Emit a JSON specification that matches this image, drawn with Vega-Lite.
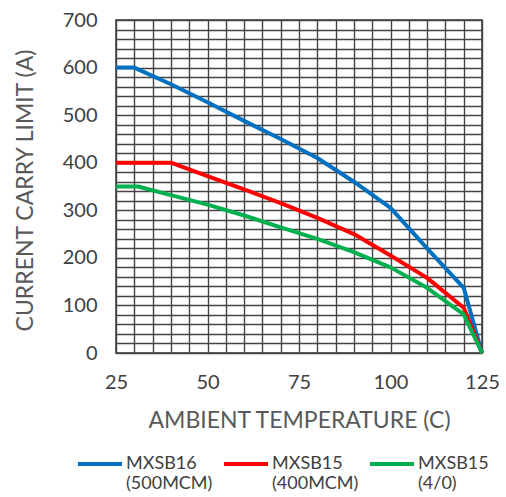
{
  "$schema": "https://vega.github.io/schema/vega-lite/v6.json",
  "width": 366,
  "height": 333,
  "autosize": {"type": "none"},
  "padding": {"left": 116, "top": 20, "right": 24, "bottom": 144},
  "background": "white",
  "config": {
    "font": "Lato",
    "view": {"stroke": "#333333", "strokeWidth": 1.5},
    "axis": {
      "labelFont": "Lato",
      "titleFont": "Lato",
      "labelColor": "#404040",
      "titleColor": "#595959",
      "labelFontSize": 20,
      "titleFontSize": 23,
      "titleFontWeight": "normal",
      "ticks": false,
      "domain": false,
      "grid": true,
      "gridColor": "#444444",
      "gridWidth": 1.4,
      "gridOpacity": 1,
      "labelFlush": false
    },
    "legend": {
      "labelFont": "Lato",
      "labelFontSize": 18,
      "labelColor": "#404040"
    }
  },
  "data": {
    "values": [
      {"series": "MXSB16 (500MCM)", "temp": 25, "current": 600},
      {"series": "MXSB16 (500MCM)", "temp": 30, "current": 600},
      {"series": "MXSB16 (500MCM)", "temp": 40, "current": 565},
      {"series": "MXSB16 (500MCM)", "temp": 50, "current": 527},
      {"series": "MXSB16 (500MCM)", "temp": 60, "current": 488},
      {"series": "MXSB16 (500MCM)", "temp": 70, "current": 450},
      {"series": "MXSB16 (500MCM)", "temp": 80, "current": 410},
      {"series": "MXSB16 (500MCM)", "temp": 90, "current": 360},
      {"series": "MXSB16 (500MCM)", "temp": 100, "current": 305},
      {"series": "MXSB16 (500MCM)", "temp": 110, "current": 220},
      {"series": "MXSB16 (500MCM)", "temp": 120, "current": 137},
      {"series": "MXSB16 (500MCM)", "temp": 125, "current": 0},
      {"series": "MXSB15 (400MCM)", "temp": 25, "current": 400},
      {"series": "MXSB15 (400MCM)", "temp": 40, "current": 400},
      {"series": "MXSB15 (400MCM)", "temp": 50, "current": 372},
      {"series": "MXSB15 (400MCM)", "temp": 60, "current": 344},
      {"series": "MXSB15 (400MCM)", "temp": 70, "current": 315},
      {"series": "MXSB15 (400MCM)", "temp": 80, "current": 284},
      {"series": "MXSB15 (400MCM)", "temp": 90, "current": 250},
      {"series": "MXSB15 (400MCM)", "temp": 100, "current": 205},
      {"series": "MXSB15 (400MCM)", "temp": 110, "current": 158},
      {"series": "MXSB15 (400MCM)", "temp": 120, "current": 95},
      {"series": "MXSB15 (400MCM)", "temp": 125, "current": 0},
      {"series": "MXSB15 (4/0)", "temp": 25, "current": 350},
      {"series": "MXSB15 (4/0)", "temp": 31, "current": 350},
      {"series": "MXSB15 (4/0)", "temp": 40, "current": 332},
      {"series": "MXSB15 (4/0)", "temp": 50, "current": 312},
      {"series": "MXSB15 (4/0)", "temp": 60, "current": 289},
      {"series": "MXSB15 (4/0)", "temp": 70, "current": 264},
      {"series": "MXSB15 (4/0)", "temp": 80, "current": 240},
      {"series": "MXSB15 (4/0)", "temp": 90, "current": 212},
      {"series": "MXSB15 (4/0)", "temp": 100, "current": 180},
      {"series": "MXSB15 (4/0)", "temp": 110, "current": 137},
      {"series": "MXSB15 (4/0)", "temp": 120, "current": 81},
      {"series": "MXSB15 (4/0)", "temp": 125, "current": 0}
    ]
  },
  "mark": {"type": "line", "strokeWidth": 4, "strokeJoin": "round"},
  "encoding": {
    "x": {
      "field": "temp",
      "type": "quantitative",
      "scale": {"domain": [25, 125], "nice": false, "zero": false},
      "axis": {
        "title": "AMBIENT TEMPERATURE (C)",
        "values": [25, 30, 35, 40, 45, 50, 55, 60, 65, 70, 75, 80, 85, 90, 95, 100, 105, 110, 115, 120, 125],
        "labelExpr": "datum.value % 25 === 0 ? datum.label : ''",
        "labelPadding": 19,
        "titleX": 183,
        "titleY": 67,
        "titleBaseline": "middle"
      }
    },
    "y": {
      "field": "current",
      "type": "quantitative",
      "scale": {"domain": [0, 700], "nice": false},
      "axis": {
        "title": "CURRENT CARRY LIMIT (A)",
        "values": [0, 20, 40, 60, 80, 100, 120, 140, 160, 180, 200, 220, 240, 260, 280, 300, 320, 340, 360, 380, 400, 420, 440, 460, 480, 500, 520, 540, 560, 580, 600, 620, 640, 660, 680, 700],
        "labelExpr": "datum.value % 100 === 0 ? datum.label : ''",
        "labelPadding": 19,
        "titleX": -91,
        "titleY": 170,
        "titleBaseline": "middle",
        "titleAngle": 270
      }
    },
    "color": {
      "field": "series",
      "type": "nominal",
      "sort": null,
      "scale": {
        "domain": ["MXSB16 (500MCM)", "MXSB15 (400MCM)", "MXSB15 (4/0)"],
        "range": ["#0070C0", "#FF0000", "#00B050"]
      },
      "legend": {
        "title": null,
        "orient": "none",
        "direction": "horizontal",
        "legendX": -40,
        "legendY": 420,
        "symbolType": "stroke",
        "symbolSize": 1936,
        "symbolStrokeWidth": 4,
        "labelOffset": 2,
        "columnPadding": 3,
        "labelLineHeight": 25,
        "labelBaseline": "middle",
        "labelExpr": "split(datum.label, ' ')"
      }
    }
  }
}
